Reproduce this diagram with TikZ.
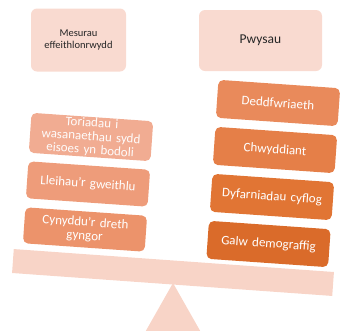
\documentclass[tikz,border=0pt]{standalone}
\usepackage{fontspec}
\setmainfont{Carlito}
\definecolor{toppink}{HTML}{F9DAD0}
\definecolor{beamc}{HTML}{F8D4C7}
\definecolor{lA}{HTML}{F1AC92}
\definecolor{lB}{HTML}{EE9C7A}
\definecolor{lC}{HTML}{EC936B}
\definecolor{rA}{HTML}{E98A5B}
\definecolor{rB}{HTML}{E57F48}
\definecolor{rC}{HTML}{E17534}
\definecolor{rD}{HTML}{DA6B2A}
\tikzset{
  topbox/.style={fill=toppink, rounded corners=6pt, align=center, text=black!85, inner sep=0pt},
  weight/.style={rounded corners=5pt, minimum width=122pt, text width=120pt, align=center, text=white, inner sep=0pt, rotate=-4, font=\fontsize{13}{13.5}\selectfont},
}
\begin{document}
\begin{tikzpicture}[x=1pt,y=-1pt]
\useasboundingbox (0,0) rectangle (346,330);
\clip (0,0) rectangle (346,330);
% fulcrum
\fill[beamc] (173,283) -- (118,380) -- (228,380) -- cycle;
% beam
\node[fill=beamc, minimum width=321pt, minimum height=24pt, inner sep=0pt, rotate=-4.1] (beam) at (173,272.5) {};
% top labels
\node[topbox, minimum width=95pt, minimum height=63pt, font=\fontsize{10.5}{12}\selectfont] (eff) at (78.5,40) {Mesurau\\effeithlonrwydd};
\node[topbox, minimum width=123pt, minimum height=61pt, font=\fontsize{13.5}{14}\selectfont] (pw) at (260.5,40.5) {Pwysau};
% left stack
\node[weight, fill=lA, minimum height=40pt, text=white!95!lA] (l1) at (91,137) {Toriadau i\\wasanaethau sydd\\eisoes yn bodoli};
\node[weight, fill=lB, minimum height=37pt] (l2) at (88,184) {Lleihau’r gweithlu};
\node[weight, fill=lC, minimum height=36pt] (l3) at (85,229.5) {Cynyddu’r dreth\\gyngor};
% right stack
\node[weight, fill=rA, minimum height=38pt] (r1) at (278,103) {Deddfwriaeth};
\node[weight, fill=rB, minimum height=38pt] (r2) at (275,150) {Chwyddiant};
\node[weight, fill=rC, minimum height=38pt] (r3) at (272,197) {Dyfarniadau cyflog};
\node[weight, fill=rD, minimum height=38pt] (r4) at (268.5,244) {Galw demograffig};
\end{tikzpicture}
\end{document}
